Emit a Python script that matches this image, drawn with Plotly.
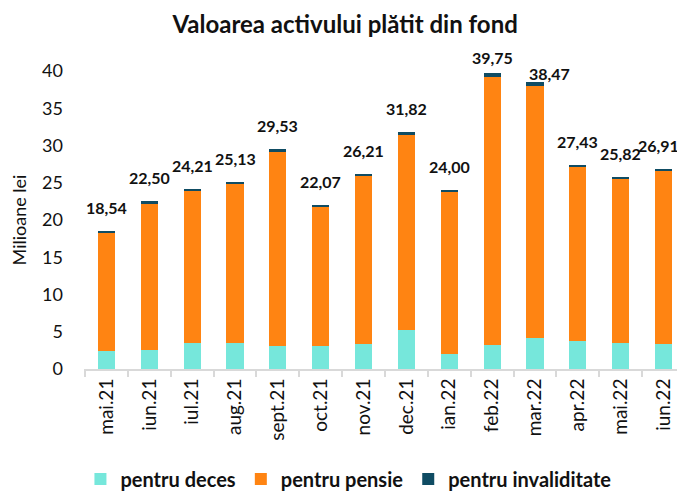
import plotly.graph_objects as go

categories = ["mai.21", "iun.21", "iul.21", "aug.21", "sept.21", "oct.21", "nov.21",
              "dec.21", "ian.22", "feb.22", "mar.22", "apr.22", "mai.22", "iun.22"]
totals = [18.54, 22.50, 24.21, 25.13, 29.53, 22.07, 26.21, 31.82, 24.00, 39.75, 38.47, 27.43, 25.82, 26.91]
deces = [2.46, 2.50, 3.45, 3.54, 3.05, 3.05, 3.40, 5.25, 1.97, 3.18, 4.12, 3.72, 3.54, 3.31]
invaliditate = [0.20, 0.25, 0.22, 0.28, 0.35, 0.30, 0.30, 0.35, 0.18, 0.54, 0.42, 0.22, 0.30, 0.25]
pensie = [round(t - d - i, 2) for t, d, i in zip(totals, deces, invaliditate)]
total_labels = [f"{v:.2f}".replace(".", ",") for v in totals]

FONT = "Lato"

fig = go.Figure()
fig.add_trace(go.Bar(x=categories, y=deces, name="pentru deces", marker_color="#76E7DB",
                     marker_line_width=0, width=0.4))
fig.add_trace(go.Bar(x=categories, y=pensie, name="pentru pensie", marker_color="#FF8412",
                     marker_line_width=0, width=0.4))
fig.add_trace(go.Bar(x=categories, y=invaliditate, name="pentru invaliditate", marker_color="#0F4C63",
                     marker_line_width=0, width=0.4))

# label placement tweaks (pixel offsets) for labels moved in the original
label_shift = {"feb.22": (0, -8), "mar.22": (14, -15), "iun.22": (-5, 0)}
for cat, tot, lab in zip(categories, totals, total_labels):
    dx, dy = label_shift.get(cat, (0, 0))
    fig.add_annotation(x=cat, y=tot, text=f"<b>{lab}</b>", showarrow=False,
                       xanchor="center", yanchor="bottom", xshift=dx, yshift=12 + dy,
                       font=dict(family=FONT, size=16, color="#111111"))

fig.update_layout(
    width=677, height=484,
    barmode="stack",
    paper_bgcolor="white", plot_bgcolor="white",
    margin=dict(l=76, r=0, t=63, b=123, autoexpand=False),
    title=dict(text="<b>Valoarea activului plătit din fond</b>", x=0.498, xanchor="center",
               y=0.966, yanchor="middle", font=dict(family=FONT, size=24, color="#111111")),
    font=dict(family=FONT, color="#111111"),
    legend=dict(orientation="h", x=0.44, xanchor="center", y=-0.369, yanchor="middle",
                font=dict(family=FONT, size=20, color="#111111", weight="bold"),
                traceorder="normal", itemwidth=30),
    xaxis=dict(tickangle=-90, tickfont=dict(family=FONT, size=19, color="#111111"),
               showline=True, linecolor="#D9D9D9", linewidth=2,
               ticks="outside", tickson="boundaries", ticklen=6, tickcolor="#D9D9D9", tickwidth=2,
               showgrid=False, automargin=False),
    yaxis=dict(range=[0, 40], dtick=5, showgrid=False, zeroline=False, showline=False,
               tickfont=dict(family=FONT, size=18, color="#111111"),
               ticks="", ticklabelstandoff=20, automargin=False,
               title=dict(text="Milioane lei", font=dict(family=FONT, size=18, color="#111111"),
                          standoff=12)),
)

fig.write_html("out.html")
